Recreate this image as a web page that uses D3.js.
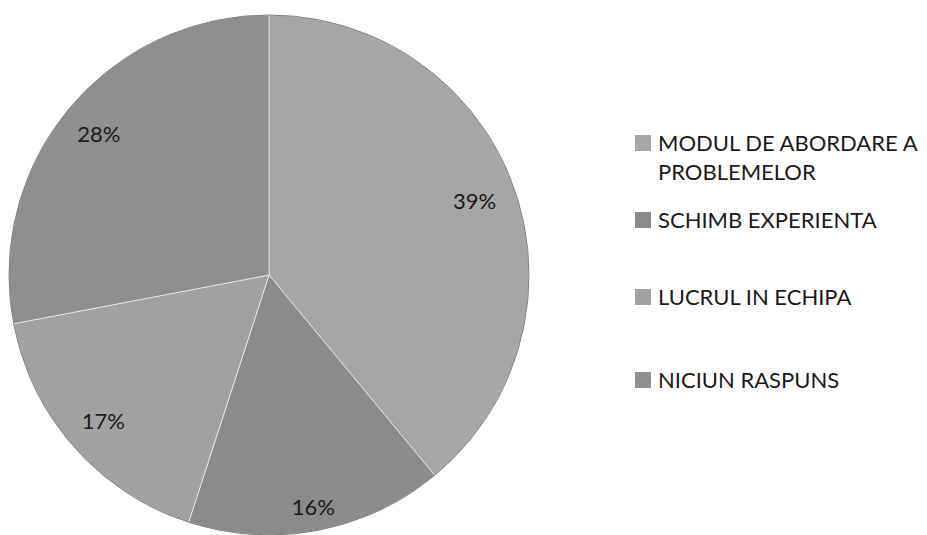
<!DOCTYPE html>
<html>
  <head>
    <meta charset="utf-8">
    <style>
    body {
      margin: 0;
      background: #fff;
      font-family: Lato, "Open Sans", sans-serif;
    }
    .pct {
      font-size: 22px;
      fill: #1a1a1a;
    }
    .legend text {
      font-size: 22px;
      fill: #1a1a1a;
    }
    </style>
  </head>

  <body>
    <script src="https://d3js.org/d3.v7.min.js"></script>
    <script>

    // data
    var categories = ["MODUL DE ABORDARE A PROBLEMELOR", "SCHIMB EXPERIENTA", "LUCRUL IN ECHIPA", "NICIUN RASPUNS"];
    var values = [39, 16, 17, 28];
    var colours = ["#a6a6a6", "#8b8b8b", "#a2a2a2", "#8f8f8f"];

    var width = 927, height = 535;
    var cx = 269, cy = 275, radius = 260;
    // how far out each label sits (fraction of radius), like excel's best fit
    var labelPos = [0.84, 0.91, 0.85, 0.85];

    var svg = d3.select("body").append("svg")
        .attr("width", width)
        .attr("height", height);

    var data = categories.map(function(c, i) {
      return {name: c, value: values[i], colour: colours[i]};
    });

    var pie = d3.pie()
        .sort(null)
        .value(function(d) { return d.value; });

    var arc = d3.arc()
        .innerRadius(0)
        .outerRadius(radius);

    var g = svg.append("g")
        .attr("transform", "translate(" + cx + "," + cy + ")");

    var slices = g.selectAll(".slice")
        .data(pie(data))
        .enter().append("g")
        .attr("class", "slice");

    slices.append("path")
        .attr("d", arc)
        .style("fill", function(d) { return d.data.colour; })
        .style("stroke", "#ffffff")
        .style("stroke-opacity", 0.6)
        .style("stroke-width", 1);

    // darker rim
    g.append("circle")
        .attr("r", radius)
        .style("fill", "none")
        .style("stroke", "#7d7d7d")
        .style("stroke-width", 1);

    slices.append("text")
        .attr("class", "pct")
        .attr("transform", function(d, i) {
          var r = radius * labelPos[i];
          var c = d3.arc().innerRadius(r).outerRadius(r).centroid(d);
          return "translate(" + c + ")";
        })
        .attr("text-anchor", "middle")
        .attr("dy", "0.35em")
        .text(function(d) { return d.data.value + "%"; });

    // legend, first entry wraps onto two lines
    var legendRows = [143, 220, 297, 380];
    var legend = svg.append("g")
        .attr("class", "legend")
        .attr("transform", "translate(635,0)");

    var item = legend.selectAll("g")
        .data(data)
        .enter().append("g")
        .attr("transform", function(d, i) { return "translate(0," + legendRows[i] + ")"; });

    item.append("rect")
        .attr("x", 0)
        .attr("y", -8)
        .attr("width", 16)
        .attr("height", 16)
        .style("fill", function(d) { return d.colour; });

    item.append("text")
        .each(function(d, i) {
          var lines = i === 0 ? ["MODUL DE ABORDARE A", "PROBLEMELOR"] : [d.name];
          var t = d3.select(this);
          lines.forEach(function(l, j) {
            t.append("tspan")
                .attr("x", 23)
                .attr("dy", j === 0 ? "0.35em" : "29px")
                .text(l);
          });
        });

    </script>
  </body>
</html>
